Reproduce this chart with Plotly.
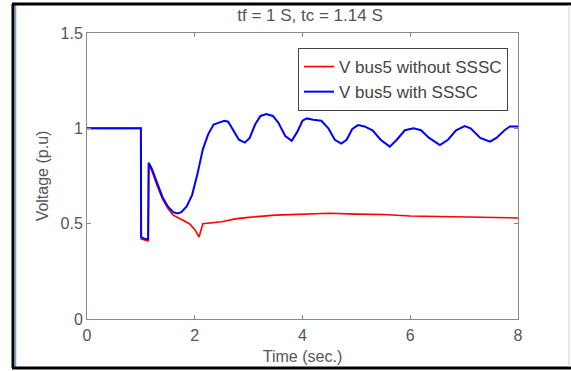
import plotly.graph_objects as go

# Data
t_without = [0, 1.0, 1.005, 1.07, 1.135, 1.145, 1.2, 1.3, 1.4, 1.5, 1.6, 1.7, 1.8, 1.9, 2.0,
             2.08, 2.15, 2.3, 2.5, 2.75, 3.0, 3.5, 4.0, 4.5, 5.0, 5.5, 6.0, 6.5, 7.0, 7.5, 8.0]
v_without = [1.0, 1.0, 0.42, 0.415, 0.41, 0.81, 0.78, 0.70, 0.63, 0.58, 0.545, 0.53, 0.515, 0.50, 0.47,
             0.43, 0.50, 0.505, 0.51, 0.525, 0.533, 0.545, 0.548, 0.555, 0.55, 0.548, 0.54, 0.537, 0.535, 0.532, 0.53]

t_with = [0, 1.0, 1.005, 1.07, 1.135, 1.145, 1.2, 1.3, 1.4, 1.5, 1.6, 1.68, 1.75, 1.85, 1.95, 2.05,
          2.15, 2.25, 2.35, 2.45, 2.55, 2.62, 2.72, 2.82, 2.93, 3.02, 3.12, 3.22, 3.33, 3.45, 3.55,
          3.68, 3.8, 3.9, 4.0, 4.08, 4.2, 4.35, 4.48, 4.6, 4.72, 4.82, 4.92, 5.03, 5.15, 5.3, 5.45,
          5.62, 5.75, 5.9, 6.06, 6.2, 6.35, 6.55, 6.7, 6.85, 7.01, 7.12, 7.3, 7.48, 7.6, 7.75, 7.85, 8.0]
v_with = [1.0, 1.0, 0.43, 0.42, 0.42, 0.82, 0.79, 0.71, 0.64, 0.59, 0.56, 0.553, 0.56, 0.59, 0.65, 0.76,
          0.89, 0.97, 1.02, 1.03, 1.04, 1.035, 0.99, 0.94, 0.925, 0.95, 1.02, 1.065, 1.075, 1.065, 1.03,
          0.96, 0.935, 0.98, 1.04, 1.052, 1.045, 1.04, 1.0, 0.94, 0.92, 0.94, 0.995, 1.017, 1.01, 0.99, 0.94,
          0.904, 0.94, 0.99, 1.0, 0.99, 0.95, 0.912, 0.94, 0.99, 1.012, 1.0, 0.95, 0.93, 0.95, 0.99, 1.01, 1.01]

x_ticks = [0, 2, 4, 6, 8]
y_ticks = [0, 0.5, 1, 1.5]
y_tick_text = ["0", "0.5", "1", "1.5"]

FONT = "Liberation Sans, Arial"
GREY = "#555555"

fig = go.Figure()
fig.add_trace(go.Scatter(x=t_without, y=v_without, mode="lines", name="V bus5 without SSSC",
                         line=dict(color="#ff0000", width=1.6)))
fig.add_trace(go.Scatter(x=t_with, y=v_with, mode="lines", name="V bus5 with SSSC",
                         line=dict(color="#0000ff", width=2)))

axis_common = dict(showline=True, linecolor="#8a8a8a", linewidth=1, mirror="ticks",
                   ticks="inside", ticklen=4, tickcolor="#8a8a8a", showgrid=False, zeroline=False,
                   automargin=False,
                   tickfont=dict(family=FONT, size=16, color=GREY))

fig.update_layout(
    width=571, height=371,
    margin=dict(l=87, r=53, t=33, b=52),
    paper_bgcolor="white", plot_bgcolor="white",
    title=dict(text="tf = 1 S, tc = 1.14 S", x=(310 / 571), xanchor="center", y=1 - 15 / 371,
               yanchor="middle", font=dict(family=FONT, size=17, color=GREY)),
    xaxis=dict(range=[0, 8], tickvals=x_ticks, ticktext=[str(v) for v in x_ticks],
               ticklabelstandoff=2,
               title=dict(text="Time (sec.)", standoff=7,
                          font=dict(family=FONT, size=16, color=GREY)),
               **axis_common),
    yaxis=dict(range=[0, 1.5], tickvals=y_ticks, ticktext=y_tick_text,
               title=dict(text="Voltage (p.u)", standoff=7,
                          font=dict(family=FONT, size=16, color=GREY)),
               **axis_common),
    legend=dict(x=(508 - 87) / 431, xanchor="right", y=(319 - 48) / 286, yanchor="top",
                bordercolor="#444444", borderwidth=1, bgcolor="white",
                font=dict(family=FONT, size=17, color="#444444")),
    showlegend=True,
)

# Outer picture frame
def px(x):
    return (x - 87) / 431

def py(y):
    return (319 - y) / 286

frame = [
    dict(x0=px(13), x1=px(13), y0=py(4), y1=py(368), color="black", width=3),
    dict(x0=px(15.5), x1=px(15.5), y0=py(5), y1=py(367), color="#6a9fe0", width=1.5),
    dict(x0=px(12), x1=px(571), y0=py(4), y1=py(4), color="black", width=3),
    dict(x0=px(12), x1=px(571), y0=py(368), y1=py(368), color="black", width=3),
    dict(x0=px(569), x1=px(569), y0=py(5), y1=py(367), color="#d0d0d0", width=1),
]
for f in frame:
    fig.add_shape(type="line", xref="paper", yref="paper", x0=f["x0"], x1=f["x1"], y0=f["y0"], y1=f["y1"],
                  line=dict(color=f["color"], width=f["width"]), layer="above")

fig.write_html("out.html")
